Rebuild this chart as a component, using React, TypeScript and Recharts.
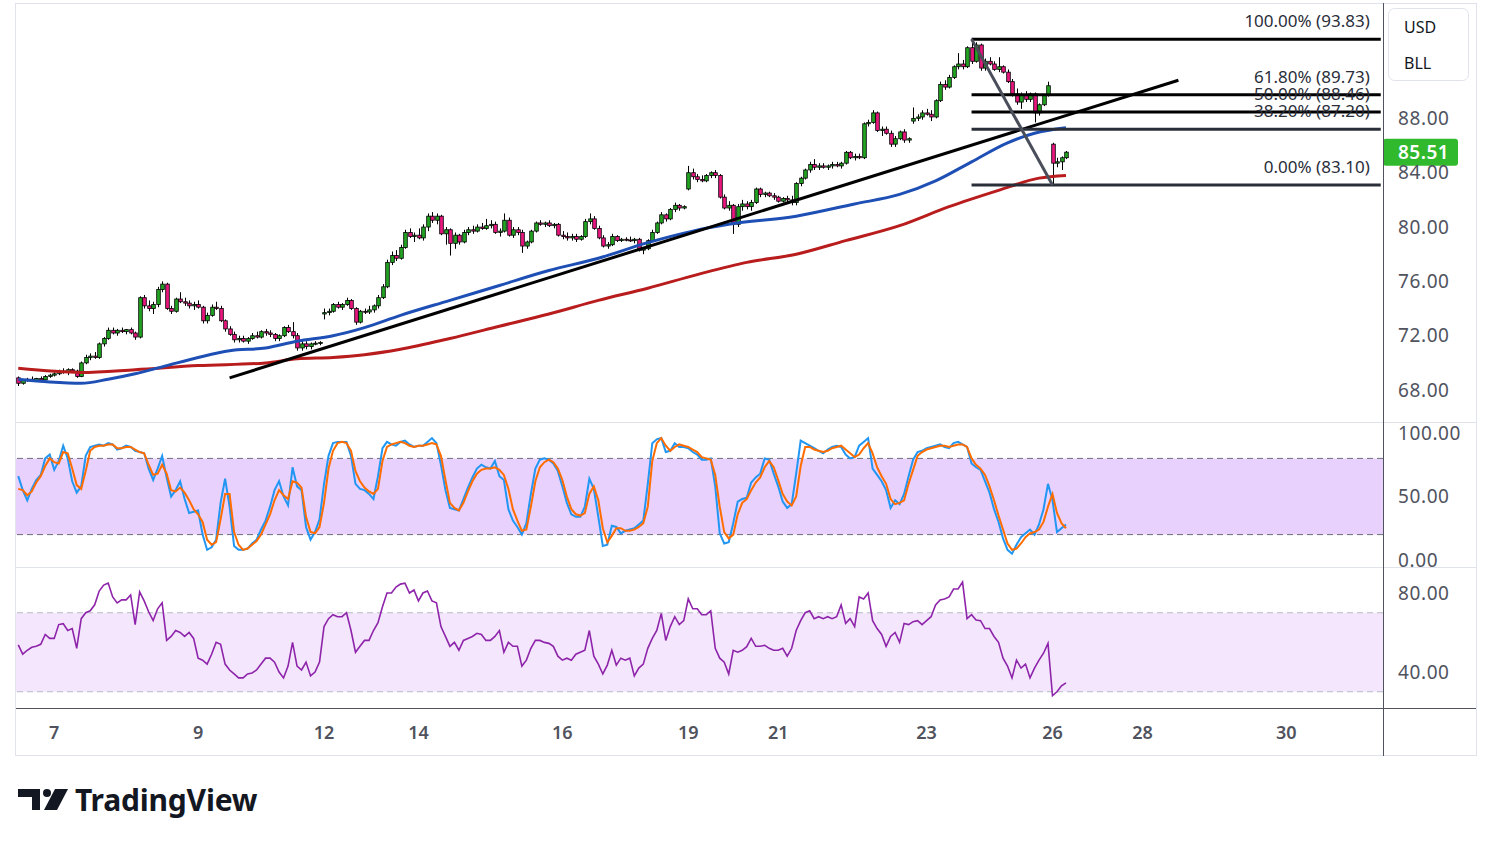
import React from 'react';
import {
  ComposedChart,
  Bar,
  Line,
  XAxis,
  YAxis,
  ReferenceLine,
  ReferenceArea,
} from 'recharts';

// hourly candles, [open, high, low, close]
const candles: number[][] = [
  [68.9, 69.0, 68.3, 68.5], [68.5, 68.8, 68.4, 68.7], [68.7, 68.9, 68.6, 68.8], [68.8, 69.0, 68.6, 68.7],
  [68.7, 68.9, 68.6, 68.85], [68.85, 69.0, 68.7, 68.75], [68.75, 69.1, 68.7, 69.0], [69.0, 69.2, 68.9, 69.1],
  [69.1, 69.3, 69.0, 69.2], [69.2, 69.5, 69.1, 69.4], [69.4, 69.6, 69.2, 69.3], [69.3, 69.6, 69.1, 69.5],
  [69.5, 69.6, 69.3, 69.4], [69.4, 69.5, 68.9, 69.0], [69.0, 70.1, 68.95, 70.0], [70.0, 70.6, 69.9, 70.4],
  [70.4, 70.7, 70.2, 70.5], [70.5, 70.8, 70.3, 70.4], [70.4, 71.5, 70.3, 71.4], [71.4, 71.9, 71.2, 71.8],
  [71.8, 72.6, 71.7, 72.4], [72.4, 72.6, 72.1, 72.2], [72.2, 72.5, 72.0, 72.4], [72.4, 72.6, 72.2, 72.3],
  [72.3, 72.5, 72.1, 72.45], [72.45, 72.6, 72.1, 72.2], [72.2, 72.3, 71.7, 71.9], [71.9, 74.9, 71.8, 74.8],
  [74.8, 75.0, 74.0, 74.2], [74.2, 74.6, 73.8, 74.0], [74.0, 74.5, 73.6, 74.3], [74.3, 75.6, 74.1, 75.4],
  [75.4, 76.0, 75.2, 75.8], [75.8, 75.9, 73.9, 74.0], [74.0, 74.2, 73.6, 73.8], [73.8, 74.8, 73.7, 74.7],
  [74.7, 75.2, 74.4, 74.5], [74.5, 74.8, 74.2, 74.4], [74.4, 74.6, 74.0, 74.2], [74.2, 74.5, 73.9, 74.3],
  [74.3, 74.6, 74.0, 74.1], [74.1, 74.2, 72.9, 73.1], [73.1, 73.7, 72.9, 73.5], [73.5, 74.3, 73.4, 74.1],
  [74.1, 74.5, 73.9, 74.0], [74.0, 74.2, 73.0, 73.1], [73.1, 73.2, 72.3, 72.5], [72.5, 72.7, 72.0, 72.1],
  [72.1, 72.3, 71.5, 71.7], [71.7, 72.0, 71.5, 71.8], [71.8, 72.0, 71.5, 71.6], [71.6, 71.9, 71.4, 71.8],
  [71.8, 72.2, 71.7, 72.0], [72.0, 72.3, 71.8, 71.9], [71.9, 72.4, 71.8, 72.3], [72.3, 72.5, 72.0, 72.2],
  [72.2, 72.4, 71.9, 72.1], [72.1, 72.2, 71.6, 71.8], [71.8, 72.1, 71.6, 72.0], [72.0, 72.7, 71.9, 72.6],
  [72.6, 72.8, 72.2, 72.3], [72.3, 73.0, 71.8, 72.0], [72.0, 72.2, 70.9, 71.1], [71.1, 71.6, 70.9, 71.4],
  [71.4, 71.6, 71.0, 71.2], [71.2, 71.5, 71.0, 71.4], [71.4, 71.6, 71.3, 71.45], [71.45, 71.6, 71.3, 71.5],
  [73.6, 74.0, 73.2, 73.7], [73.7, 74.0, 73.5, 73.8], [73.8, 74.4, 73.7, 74.3], [74.3, 74.5, 74.0, 74.1],
  [74.1, 74.4, 73.9, 74.3], [74.3, 74.8, 74.2, 74.6], [74.6, 74.7, 73.9, 74.0], [74.0, 74.1, 72.8, 73.0],
  [73.0, 73.9, 72.9, 73.8], [73.8, 74.0, 73.6, 73.75], [73.75, 74.2, 73.6, 73.9], [73.9, 74.3, 73.7, 74.2],
  [74.2, 75.0, 74.0, 74.8], [74.8, 75.8, 74.7, 75.6], [75.6, 77.6, 75.5, 77.4], [77.4, 78.2, 77.2, 77.9],
  [77.9, 78.3, 77.5, 77.7], [77.7, 78.7, 77.6, 78.5], [78.5, 79.8, 78.4, 79.6], [79.6, 79.9, 79.2, 79.3],
  [79.3, 79.6, 78.9, 79.4], [79.4, 79.9, 79.1, 79.2], [79.2, 80.2, 79.0, 80.0], [80.0, 81.0, 79.7, 80.8],
  [80.8, 81.1, 80.3, 80.5], [80.5, 81.0, 80.2, 80.8], [80.8, 80.9, 79.4, 79.5], [79.5, 80.0, 78.7, 79.8],
  [79.8, 79.9, 77.9, 78.8], [78.8, 79.6, 78.4, 79.4], [79.4, 79.5, 78.7, 78.9], [78.9, 79.8, 78.8, 79.6],
  [79.6, 80.0, 79.4, 79.8], [79.8, 80.1, 79.5, 79.7], [79.7, 80.2, 79.6, 80.0], [80.0, 80.3, 79.8, 79.9],
  [79.9, 80.6, 79.8, 80.1], [80.1, 80.5, 79.9, 80.2], [80.2, 80.4, 79.5, 79.6], [79.6, 79.9, 79.3, 79.7],
  [79.7, 81.0, 79.6, 80.5], [80.5, 80.7, 79.3, 79.4], [79.4, 80.0, 79.2, 79.8], [79.8, 80.0, 79.4, 79.6],
  [79.6, 79.8, 78.1, 78.6], [78.6, 79.0, 78.4, 78.9], [78.9, 79.8, 78.8, 79.7], [79.7, 80.4, 79.6, 80.3],
  [80.3, 80.5, 80.1, 80.2], [80.2, 80.4, 80.0, 80.3], [80.3, 80.5, 80.0, 80.1], [80.1, 80.3, 79.9, 80.2],
  [80.2, 80.3, 79.3, 79.4], [79.4, 79.7, 79.1, 79.3], [79.3, 79.6, 79.0, 79.2], [79.2, 79.5, 79.0, 79.3],
  [79.3, 79.5, 78.9, 79.1], [79.1, 79.4, 79.0, 79.3], [79.3, 80.6, 79.2, 80.4], [80.4, 81.0, 80.2, 80.6],
  [80.6, 80.8, 79.8, 79.9], [79.9, 80.1, 79.1, 79.2], [79.2, 79.4, 78.5, 78.6], [78.6, 78.9, 78.4, 78.7],
  [78.7, 79.5, 78.6, 79.3], [79.3, 79.4, 78.9, 79.0], [79.0, 79.2, 78.9, 79.1], [79.1, 79.25, 78.95, 79.05],
  [79.05, 79.3, 78.9, 79.0], [79.0, 79.2, 78.8, 79.1], [79.1, 79.2, 78.2, 78.3], [78.3, 78.5, 78.0, 78.4],
  [78.4, 79.1, 78.3, 79.0], [79.0, 79.8, 78.9, 79.6], [79.6, 80.4, 79.5, 80.3], [80.3, 81.1, 80.2, 80.9],
  [80.9, 81.0, 80.4, 80.6], [80.6, 81.4, 80.5, 81.3], [81.3, 81.8, 81.1, 81.6], [81.6, 81.7, 81.2, 81.4],
  [81.4, 81.6, 81.3, 81.5], [82.8, 84.5, 82.7, 84.0], [84.0, 84.3, 83.5, 83.7], [83.7, 83.9, 83.3, 83.5],
  [83.5, 83.8, 83.3, 83.4], [83.4, 83.9, 83.3, 83.8], [83.8, 84.1, 83.6, 84.0], [84.0, 84.2, 83.6, 83.8],
  [83.8, 83.9, 82.1, 82.2], [82.2, 82.4, 81.3, 81.4], [81.4, 81.9, 81.2, 81.6], [81.6, 81.7, 79.5, 80.2],
  [80.2, 81.7, 80.0, 81.5], [81.5, 82.0, 81.2, 81.7], [81.7, 81.9, 81.3, 81.5], [81.5, 82.0, 81.2, 81.8],
  [81.8, 82.9, 81.7, 82.8], [82.8, 82.9, 82.2, 82.4], [82.4, 82.6, 82.2, 82.5], [82.5, 82.6, 82.2, 82.3],
  [82.3, 82.5, 82.0, 82.2], [82.2, 82.3, 81.8, 81.9], [81.9, 82.2, 81.8, 82.1], [82.1, 82.3, 81.8, 82.0],
  [82.0, 82.3, 81.6, 81.8], [81.8, 83.3, 81.6, 83.2], [83.2, 83.7, 83.0, 83.6], [83.6, 84.3, 83.5, 84.2],
  [84.2, 84.8, 84.0, 84.6], [84.6, 85.0, 84.2, 84.4], [84.4, 84.7, 84.2, 84.5], [84.5, 84.7, 84.3, 84.4],
  [84.4, 84.6, 84.2, 84.5], [84.5, 84.8, 84.3, 84.6], [84.6, 84.8, 84.4, 84.5], [84.5, 84.8, 84.3, 84.7],
  [84.7, 85.6, 84.6, 85.5], [85.5, 85.6, 85.0, 85.1], [85.1, 85.4, 84.9, 85.2], [85.2, 85.4, 85.0, 85.1],
  [85.1, 87.7, 85.0, 87.6], [87.6, 87.9, 87.4, 87.7], [87.7, 88.6, 87.6, 88.4], [88.4, 88.5, 87.0, 87.1],
  [87.1, 87.4, 86.7, 87.2], [87.2, 87.4, 86.8, 86.9], [86.9, 87.1, 85.9, 86.1], [86.1, 86.7, 85.9, 86.5],
  [86.5, 87.1, 86.4, 87.0], [87.0, 87.2, 86.2, 86.4], [86.4, 86.6, 86.2, 86.5], [87.8, 88.8, 87.6, 88.0],
  [88.0, 88.3, 87.8, 88.1], [88.1, 88.6, 87.9, 88.4], [88.4, 88.7, 88.2, 88.3], [88.3, 88.6, 87.8, 88.1],
  [88.1, 89.4, 88.0, 89.3], [89.3, 90.7, 89.2, 90.5], [90.5, 90.8, 90.1, 90.3], [90.3, 91.2, 90.2, 91.0],
  [91.0, 91.9, 90.9, 91.8], [91.8, 92.8, 91.6, 92.0], [92.0, 92.3, 91.6, 91.8], [91.8, 93.3, 91.7, 93.2],
  [93.2, 93.83, 92.0, 92.2], [92.2, 93.6, 92.1, 93.4], [93.4, 93.5, 91.5, 91.7], [91.7, 92.4, 91.5, 92.2],
  [92.2, 92.5, 91.9, 92.0], [92.0, 92.2, 91.5, 91.6], [91.6, 92.5, 91.4, 91.8], [91.8, 91.9, 91.3, 91.4],
  [91.4, 91.6, 90.6, 90.7], [90.7, 90.9, 89.6, 89.8], [89.8, 90.2, 89.0, 89.2], [89.2, 89.9, 88.7, 89.7],
  [89.7, 90.0, 89.2, 89.4], [89.4, 89.9, 89.2, 89.8], [89.8, 89.9, 87.7, 88.4], [88.4, 89.1, 88.2, 89.0],
  [89.0, 89.8, 88.9, 89.7], [89.7, 90.7, 89.6, 90.4], [86.1, 86.2, 83.1, 84.7], [84.7, 85.1, 84.4, 84.8],
  [84.8, 85.2, 84.2, 85.1], [85.1, 85.6, 85.0, 85.51],
];

// stochastic %K and %D
const stochK = [
  66, 55, 47, 56, 63, 67, 80, 83, 71, 78, 90, 80, 62, 53, 58, 82, 89, 90, 91, 90,
  92, 91, 87, 88, 90, 89, 86, 85, 84, 72, 63, 72, 82, 65, 50, 55, 62, 48, 37, 38,
  39, 20, 8, 10, 16, 45, 64, 42, 11, 8, 8, 9, 13, 16, 24, 31, 42, 55, 62, 50,
  43, 73, 58, 55, 26, 16, 22, 32, 60, 82, 92, 93, 93, 93, 82, 60, 56, 55, 52, 48,
  66, 88, 93, 91, 90, 93, 94, 91, 89, 90, 90, 93, 96, 92, 75, 55, 41, 40, 39, 48,
  57, 65, 72, 75, 73, 72, 78, 66, 63, 40, 31, 26, 20, 29, 52, 72, 79, 80, 79, 76,
  70, 58, 45, 36, 34, 34, 42, 64, 56, 34, 11, 12, 27, 26, 21, 23, 24, 25, 28, 31,
  60, 92, 95, 96, 85, 86, 92, 89, 89, 88, 85, 83, 79, 79, 80, 58, 21, 13, 14, 29,
  46, 48, 49, 61, 65, 68, 80, 79, 68, 58, 46, 41, 44, 68, 94, 92, 90, 88, 86, 84,
  87, 89, 90, 89, 83, 80, 81, 90, 93, 96, 72, 67, 62, 55, 41, 47, 44, 52, 66, 79,
  85, 86, 88, 89, 90, 91, 89, 88, 92, 93, 91, 89, 76, 73, 71, 62, 53, 40, 30, 17,
  8, 5, 12, 18, 21, 24, 20, 28, 40, 60, 47, 22, 25, 28,
];
const stochD = [
  56, 55, 51, 54, 61, 66, 74, 80, 77, 76, 85, 84, 72, 59, 56, 70, 86, 89, 90, 90,
  91, 91, 88, 88, 89, 89, 87, 85, 84, 75, 67, 68, 75, 68, 55, 54, 57, 53, 47, 40,
  36, 30, 16, 12, 14, 32, 52, 52, 22, 12, 8, 9, 12, 15, 20, 28, 36, 47, 55, 51,
  48, 62, 61, 57, 34, 22, 21, 26, 45, 72, 86, 92, 93, 92, 86, 70, 62, 57, 54, 52,
  56, 78, 89, 91, 92, 93, 92, 90, 89, 90, 90, 91, 92, 91, 82, 63, 45, 41, 39, 45,
  54, 62, 68, 71, 72, 72, 73, 71, 67, 56, 40, 31, 23, 24, 42, 62, 73, 77, 79, 77,
  72, 63, 50, 40, 36, 35, 37, 52, 58, 47, 25, 14, 19, 25, 25, 23, 23, 24, 26, 29,
  42, 78, 92, 96, 90, 86, 89, 91, 90, 89, 87, 85, 81, 80, 79, 67, 42, 22, 17, 20,
  36, 45, 48, 55, 61, 65, 73, 78, 73, 63, 52, 46, 43, 50, 74, 89, 89, 87, 86, 85,
  86, 88, 89, 90, 87, 84, 81, 83, 88, 92, 84, 73, 66, 60, 48, 44, 45, 47, 60, 71,
  82, 85, 87, 88, 89, 90, 90, 89, 90, 91, 91, 89, 80, 75, 72, 67, 58, 47, 35, 24,
  13, 8, 9, 13, 18, 21, 22, 24, 30, 42, 52, 37, 29, 25,
];

// RSI
const rsi = [
  53.7, 49, 51, 52.5, 53, 54, 59, 57, 57, 64, 64.5, 61, 62, 52, 67, 70, 71, 74, 81, 84,
  85, 78, 75, 76.5, 76.5, 79, 64, 80.5, 76, 70.5, 66, 72, 75, 56, 58, 61, 60, 58, 60, 57,
  47, 46, 44, 49, 55, 54, 44, 41, 39, 37, 37, 39, 39.5, 41, 44, 47, 47, 45, 40, 37,
  43, 55, 43, 41, 45, 38, 40, 45, 63, 67, 69, 68, 68, 70, 61, 50, 53, 56, 56, 61,
  65, 73, 80, 80, 83, 84.5, 85, 80, 81.5, 76, 80, 81, 76, 75, 63, 58, 53, 55, 51, 56,
  57, 58, 59.6, 59, 56, 56, 58, 61, 50, 55, 53, 53, 43, 46, 52, 56, 56, 55, 54.5, 53,
  48, 46, 47, 46, 49, 50, 51, 61, 48, 44, 39, 43.5, 51, 43.5, 47, 46, 47, 38, 42, 44,
  52, 57, 61, 69.7, 56, 63, 68, 64, 66, 77, 72, 72, 69, 69, 71, 52, 47, 45, 39, 51,
  50, 51, 52.8, 57, 53, 53, 53.5, 52, 51, 51, 52, 48, 52, 61, 66, 70, 71, 67, 68, 67,
  68, 67, 68, 74, 64.6, 67, 63, 78, 77, 80, 66, 62, 59, 53, 58, 60, 55, 64.6, 64, 65.5,
  66, 64, 66, 68, 74, 76.5, 77, 78, 82, 82, 85.5, 67, 69, 66.3, 66, 62, 62, 58, 55, 47,
  43, 37, 46, 42, 44, 37, 42, 46, 49.5, 54.5, 28, 30, 33, 34.5,
];

// moving averages, [bar index, value]
const maBlue = [
  [0, 68.8], [7, 68.6], [14, 68.5], [20, 68.8], [26, 69.2], [33, 69.8], [40, 70.4], [47, 70.9],
  [55, 71.1], [62, 71.6], [70, 72.0], [77, 72.6], [85, 73.5], [96, 74.6], [107, 75.7], [118, 76.8],
  [129, 77.7], [140, 78.85], [150, 79.7], [158, 80.2], [173, 80.8], [186, 81.7], [196, 82.4],
  [204, 83.4], [212, 84.8], [220, 86.2], [226, 86.9], [233, 87.3],
];
const maRed = [
  [0, 69.6], [14, 69.3], [26, 69.5], [40, 69.8], [55, 70.0], [62, 70.3], [70, 70.4], [77, 70.6],
  [85, 71.0], [96, 71.8], [107, 72.7], [118, 73.6], [129, 74.6], [140, 75.5], [151, 76.5],
  [162, 77.4], [173, 78.0], [184, 79.0], [196, 80.1], [207, 81.5], [218, 82.7], [227, 83.6], [233, 83.8],
];

const fibLevels = [
  { label: '100.00% (93.83)', price: 93.83, color: '#000000' },
  { label: '61.80% (89.73)', price: 89.73, color: '#000000' },
  { label: '50.00% (88.46)', price: 88.46, color: '#000000' },
  { label: '38.20% (87.20)', price: 87.2, color: '#2a2e39' },
  { label: '0.00% (83.10)', price: 83.1, color: '#2a2e39' },
];
const trendLine = [[47, 68.9], [258, 90.8]];
const fibDiagonal = [[212, 93.83], [230, 83.1]];
const fibStart = 212;

const priceTicks = [68, 72, 76, 80, 84, 88];
const stochTicks = [0, 50, 100];
const rsiTicks = [40, 80];
const dayTickIndex = [8, 40, 68, 89, 121, 149, 169, 202, 230, 250, 282];
const dayTickLabel = ['7', '9', '12', '14', '16', '19', '21', '23', '26', '28', '30'];

const SLOTS = 304;
const FONT = '"Noto Sans", "Open Sans", sans-serif';
const GREEN = '#22a322';
const PINK = '#e8177e';
const AXIS_TEXT = '#50535e';
const GRID = '#e0e3eb';

const rows: any[] = Array.from({ length: SLOTS }, (_, i) => {
  const c = candles[i];
  if (!c) return { i };
  return { i, ohlc: c, range: [c[2], c[1]], k: stochK[i], d: stochD[i], rsi: rsi[i] };
});
maBlue.forEach(([i, v]) => { rows[i].blue = v; });
maRed.forEach(([i, v]) => { rows[i].red = v; });
const lastClose = candles[candles.length - 1][3];

function Candle(props: any) {
  const { x, width, payload } = props;
  let { y, height } = props;
  if (!payload || !payload.ohlc) return null;
  if (height < 0) { y += height; height = -height; }
  const [o, h, l, c] = payload.ohlc;
  const unit = height / (h - l);
  const cx = Math.round(x + width / 2) + 0.5;
  const yo = y + (h - o) * unit;
  const yc = y + (h - c) * unit;
  const top = Math.min(yo, yc);
  const bh = Math.max(Math.abs(yc - yo), 1);
  return (
    <g>
      <line x1={cx} x2={cx} y1={y} y2={y + height} stroke="#000" strokeWidth={1} />
      <rect x={cx - 1.8} y={top} width={3.6} height={bh} fill={c >= o ? GREEN : PINK} stroke="#000" strokeWidth={0.8} />
    </g>
  );
}

function FibLabel(props: any) {
  const { viewBox, text } = props;
  if (!viewBox) return null;
  return (
    <text x={viewBox.x + viewBox.width - 11} y={viewBox.y - 12} textAnchor="end" fontSize={17} fontFamily={FONT} fill="#2a2e39">
      {text}
    </text>
  );
}

function PriceTag(props: any) {
  const { viewBox, value } = props;
  if (!viewBox) return null;
  const x = viewBox.x + viewBox.width;
  const y = viewBox.y;
  return (
    <g>
      <rect x={x} y={y - 13.5} width={75} height={27} rx={3} fill="#30b92c" />
      <text x={x + 15} y={y} dy="0.36em" fontSize={19} fontWeight={600} fontFamily={FONT} fill="#ffffff" letterSpacing={0.5}>
        {value.toFixed(2)}
      </text>
    </g>
  );
}

const tickStyle = { fill: AXIS_TEXT, fontSize: 19, fontFamily: FONT, letterSpacing: 0.6 };
const fmt2 = (v: number) => v.toFixed(2);
const svgVisible = { overflow: 'visible' as const };

export default function App() {
  return (
    <div style={{ position: 'absolute', left: 0, top: 0, width: 1491, height: 847, background: '#fff', overflow: 'hidden' }}>
      {/* price pane */}
      <div style={{ position: 'absolute', left: 16, top: 3 }}>
        <ComposedChart width={1460} height={419} data={rows} margin={{ top: 0, right: 0, bottom: 0, left: 0 }}>
          <XAxis dataKey="i" scale="band" hide />
          <YAxis
            orientation="right"
            width={93}
            domain={[65.65, 96.49]}
            allowDataOverflow
            ticks={priceTicks}
            interval={0}
            tickFormatter={fmt2}
            axisLine={false}
            tickLine={false}
            tickMargin={9}
            tick={tickStyle}
          />
          <Line dataKey="red" stroke="#b91c1c" strokeWidth={3} dot={false} connectNulls type="monotone" isAnimationActive={false} />
          <Line dataKey="blue" stroke="#1e4fb5" strokeWidth={3} dot={false} connectNulls type="monotone" isAnimationActive={false} />
          <ReferenceLine
            segment={[{ x: trendLine[0][0], y: trendLine[0][1] }, { x: trendLine[1][0], y: trendLine[1][1] }]}
            stroke="#000"
            strokeWidth={3}
            ifOverflow="visible"
          />
          {fibLevels.map((f) => (
            <ReferenceLine
              key={f.label}
              segment={[{ x: fibStart, y: f.price }, { x: SLOTS - 1, y: f.price }]}
              stroke={f.color}
              strokeWidth={3}
              ifOverflow="visible"
              label={<FibLabel text={f.label} />}
            />
          ))}
          <ReferenceLine
            segment={[{ x: fibDiagonal[0][0], y: fibDiagonal[0][1] }, { x: fibDiagonal[1][0], y: fibDiagonal[1][1] }]}
            stroke="#4a4e5a"
            strokeWidth={3}
            ifOverflow="visible"
          />
          <Bar dataKey="range" shape={(p: any) => <Candle {...p} />} isAnimationActive={false} />
          <ReferenceLine y={lastClose} stroke="none" label={<PriceTag value={lastClose} />} />
        </ComposedChart>
      </div>

      {/* stochastic pane */}
      <div style={{ position: 'absolute', left: 16, top: 422 }}>
        <ComposedChart width={1460} height={145} data={rows} margin={{ top: 0, right: 0, bottom: 0, left: 0 }} style={svgVisible}>
          <XAxis dataKey="i" scale="band" hide />
          <YAxis
            orientation="right"
            width={93}
            domain={[-5.51, 108.66]}
            allowDataOverflow
            ticks={stochTicks}
            interval={0}
            tickFormatter={fmt2}
            axisLine={false}
            tickLine={false}
            tickMargin={9}
            tick={tickStyle}
          />
          <ReferenceArea y1={20} y2={80} fill="#e9d1fd" fillOpacity={1} stroke="none" />
          <ReferenceLine y={80} stroke="#6b6e78" strokeDasharray="6 4" />
          <ReferenceLine y={20} stroke="#6b6e78" strokeDasharray="6 4" />
          <Line dataKey="k" stroke="#2196f3" strokeWidth={2} dot={false} isAnimationActive={false} />
          <Line dataKey="d" stroke="#ff6d00" strokeWidth={2} dot={false} isAnimationActive={false} />
        </ComposedChart>
      </div>

      {/* RSI pane + time axis */}
      <div style={{ position: 'absolute', left: 16, top: 567 }}>
        <ComposedChart width={1460} height={189} data={rows} margin={{ top: 0, right: 0, bottom: 0, left: 0 }}>
          <XAxis
            dataKey="i"
            scale="band"
            height={48}
            ticks={dayTickIndex}
            interval={0}
            tickFormatter={(v: number) => dayTickLabel[dayTickIndex.indexOf(v)]}
            axisLine={false}
            tickLine={false}
            tickMargin={12}
            tick={{ fill: AXIS_TEXT, fontSize: 18, fontWeight: 600, fontFamily: FONT }}
          />
          <YAxis
            orientation="right"
            width={93}
            domain={[21.77, 93.16]}
            allowDataOverflow
            ticks={rsiTicks}
            interval={0}
            tickFormatter={fmt2}
            axisLine={false}
            tickLine={false}
            tickMargin={9}
            tick={tickStyle}
          />
          <ReferenceArea y1={30} y2={70} fill="#f3e6fd" fillOpacity={1} stroke="none" />
          <ReferenceLine y={70} stroke="#b8bbc4" strokeDasharray="6 4" />
          <ReferenceLine y={30} stroke="#b8bbc4" strokeDasharray="6 4" />
          <Line dataKey="rsi" stroke="#8e24aa" strokeWidth={1.6} dot={false} isAnimationActive={false} />
        </ComposedChart>
      </div>

      {/* pane frame, legend box and logo */}
      <svg width={1491} height={847} style={{ position: 'absolute', left: 0, top: 0, pointerEvents: 'none' }}>
        <rect x={15.5} y={3.5} width={1461} height={752} fill="none" stroke={GRID} />
        <line x1={16} x2={1476} y1={422.5} y2={422.5} stroke={GRID} />
        <line x1={16} x2={1476} y1={567.5} y2={567.5} stroke={GRID} />
        <line x1={1383.5} x2={1383.5} y1={3} y2={756} stroke="#50535e" />
        <line x1={16} x2={1476} y1={708.5} y2={708.5} stroke="#50535e" />
        <rect x={1388.5} y={8.5} width={80} height={72} rx={6} fill="#fff" stroke={GRID} />
        <text x={1404} y={33} fontSize={16} fontFamily={FONT} fill="#131722">USD</text>
        <text x={1404} y={69} fontSize={16} fontFamily={FONT} fill="#131722">BLL</text>
        <g fill="#131722">
          <path d="M18 789 H40 V810 H32 V797 H18 Z" />
          <circle cx={47} cy={793} r={4} />
          <path d="M55 789 H68 L57 810 H44 Z" />
        </g>
        <text x={75} y={811} fontSize={30} fontWeight={700} fontFamily={FONT} fill="#131722" letterSpacing={-0.2}>
          TradingView
        </text>
      </svg>
    </div>
  );
}
